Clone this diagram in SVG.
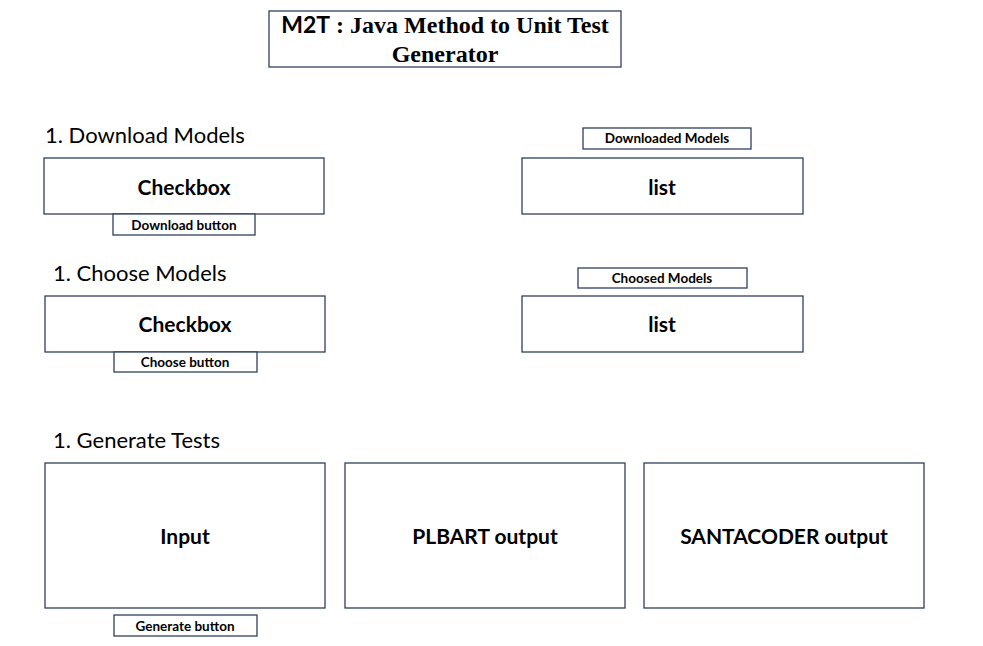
<svg xmlns="http://www.w3.org/2000/svg" width="983" height="646" viewBox="0 0 983 646">
<style>
.box{fill:#fff;stroke:#2f3f5f;stroke-width:1.3}
.h{font-family:Lato,"Open Sans","Liberation Sans",sans-serif;font-size:22px;fill:#000}
.big{font-family:Lato,"Open Sans","Liberation Sans",sans-serif;font-size:21px;font-weight:bold;fill:#000;text-anchor:middle}
.sm{font-family:Lato,"Open Sans","Liberation Sans",sans-serif;font-size:13.5px;font-weight:bold;fill:#000;text-anchor:middle}
.title{font-family:"Liberation Serif",serif;font-size:24px;font-weight:bold;fill:#000;text-anchor:middle}
</style>
<rect width="983" height="646" fill="#fff"/>
<g id="title">
<rect class="box" x="269" y="11" width="352" height="56"/>
<text class="title" x="445" y="33"><tspan font-family="Lato,'Liberation Sans',sans-serif" font-size="23">M2T</tspan> : Java Method to Unit Test</text>
<text class="title" x="445" y="62">Generator</text>
</g>
<g id="heading-download"><text class="h" x="45" y="143">1. Download Models</text></g>
<g id="checkbox-download">
<rect class="box" x="44" y="158" width="280" height="56"/>
<text class="big" x="184" y="195">Checkbox</text>
</g>
<g id="download-button">
<rect class="box" x="113" y="214" width="142" height="21"/>
<text class="sm" x="184" y="230">Download button</text>
</g>
<g id="downloaded-models-label">
<rect class="box" x="583" y="128" width="168" height="21"/>
<text class="sm" x="667" y="143">Downloaded Models</text>
</g>
<g id="list-downloaded">
<rect class="box" x="522" y="158" width="281" height="56"/>
<text class="big" x="662" y="195">list</text>
</g>
<g id="heading-choose"><text class="h" x="53" y="281">1. Choose Models</text></g>
<g id="checkbox-choose">
<rect class="box" x="45" y="296" width="280" height="56"/>
<text class="big" x="185" y="332">Checkbox</text>
</g>
<g id="choose-button">
<rect class="box" x="114" y="352" width="143" height="20"/>
<text class="sm" x="185" y="367">Choose button</text>
</g>
<g id="choosed-models-label">
<rect class="box" x="578" y="268" width="169" height="20"/>
<text class="sm" x="662" y="283">Choosed Models</text>
</g>
<g id="list-choosed">
<rect class="box" x="522" y="296" width="281" height="56"/>
<text class="big" x="662" y="332">list</text>
</g>
<g id="heading-generate"><text class="h" x="53" y="448">1. Generate Tests</text></g>
<g id="input">
<rect class="box" x="45" y="463" width="280" height="145"/>
<text class="big" x="185" y="544">Input</text>
</g>
<g id="generate-button">
<rect class="box" x="114" y="615" width="143" height="21"/>
<text class="sm" x="185" y="631">Generate button</text>
</g>
<g id="plbart-output">
<rect class="box" x="345" y="463" width="280" height="145"/>
<text class="big" x="485" y="544">PLBART output</text>
</g>
<g id="santacoder-output">
<rect class="box" x="644" y="463" width="280" height="145"/>
<text class="big" x="784" y="544">SANTACODER output</text>
</g>
<g id="connectors"></g>
</svg>
